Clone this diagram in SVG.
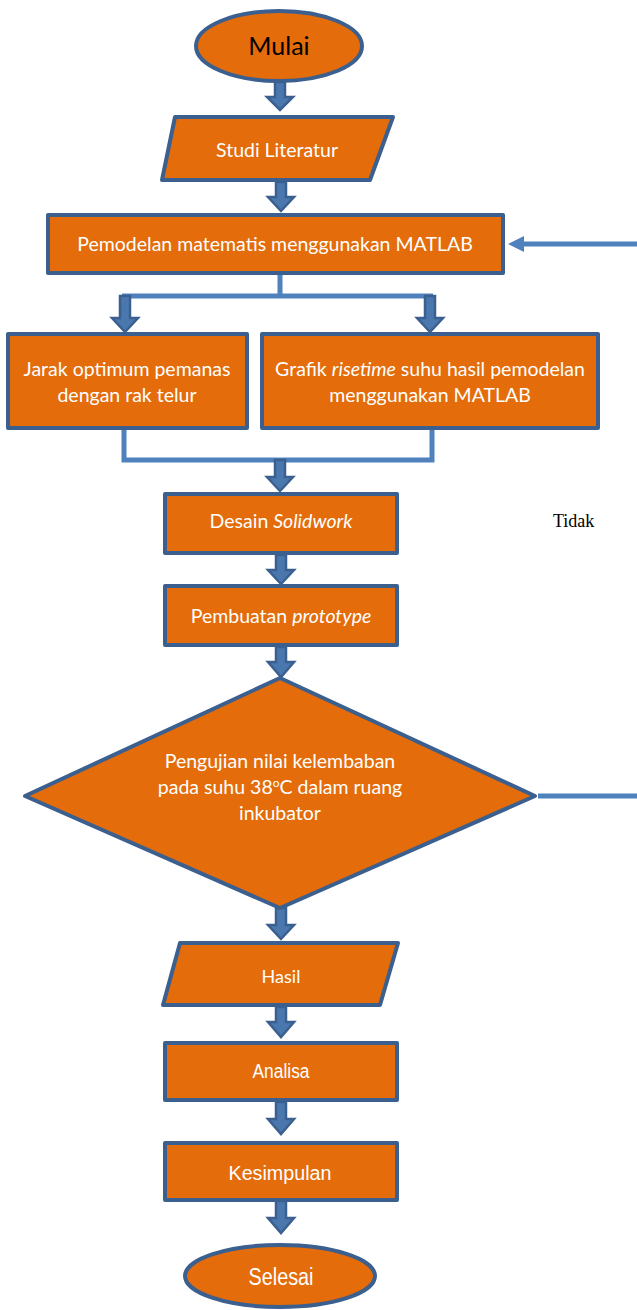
<svg xmlns="http://www.w3.org/2000/svg" width="637" height="1310" viewBox="0 0 637 1310">
<defs>
<style>
.node{fill:#E46C0A;stroke:#3B5F8E;stroke-width:4;stroke-linejoin:round}
.t{font-family:Lato,"Open Sans",sans-serif;font-size:19.5px;fill:#fff;text-anchor:middle}
.ta{font-family:"Liberation Sans",Arial,sans-serif;font-size:20px;fill:#fff;text-anchor:middle}
.barrow{fill:#4A78AE;stroke:#3B5F8E;stroke-width:2.5;stroke-linejoin:miter}
.line{fill:none;stroke:#4F81BD;stroke-width:5}
</style>
</defs>
<g id="connectors">
<path class="barrow" d="M275,82 L285,82 L285,97 L293,97 L280,110 L267,97 L275,97 Z"/>
<path class="barrow" d="M276,182 L286,182 L286,197 L294,197 L281,211 L268,197 L276,197 Z"/>
<path class="line" d="M280,274 L280,296 M122,296 L433,296"/>
<path class="barrow" d="M120,296 L130,296 L130,318 L138,318 L125,332 L112,318 L120,318 Z"/>
<path class="barrow" d="M425,296 L435,296 L435,318 L443,318 L430,332 L417,318 L425,318 Z"/>
<path class="line" d="M124,429 L124,460 L432,460 L432,429"/>
<path class="barrow" d="M275,460 L285,460 L285,477 L293,477 L280,491 L267,477 L275,477 Z"/>
<path class="barrow" d="M276,555 L286,555 L286,570 L294,570 L281,584 L268,570 L276,570 Z"/>
<path class="barrow" d="M276,647 L286,647 L286,662 L294,662 L281,677 L268,662 L276,662 Z"/>
<path class="barrow" d="M276,908 L286,908 L286,925 L294,925 L281,939 L268,925 L276,925 Z"/>
<path class="barrow" d="M276,1007 L286,1007 L286,1022 L294,1022 L281,1037 L268,1022 L276,1022 Z"/>
<path class="barrow" d="M276,1102 L286,1102 L286,1119 L294,1119 L281,1134 L268,1119 L276,1119 Z"/>
<path class="barrow" d="M276,1201 L286,1201 L286,1218 L294,1218 L281,1233 L268,1218 L276,1218 Z"/>
<path class="line" d="M637,244 L522,244"/>
<path d="M508,244 L524,236 L524,252 Z" fill="#4F81BD"/>
<path class="line" d="M538,796 L637,796"/>
<text x="553" y="527" font-family="'Liberation Serif','Times New Roman',serif" font-size="18" fill="#000">Tidak</text>
</g>
<g id="mulai">
<ellipse class="node" cx="279" cy="46" rx="83" ry="35"/>
<text x="279" y="55" font-family="Lato,'Open Sans',sans-serif" font-size="25" fill="#000" text-anchor="middle">Mulai</text>
</g>
<g id="studi">
<polygon class="node" points="175,117 393,117 370,180 162,180"/>
<text class="t" x="277" y="157">Studi Literatur</text>
</g>
<g id="pemodelan">
<rect class="node" x="48" y="215" width="455" height="58"/>
<text class="t" x="275" y="251">Pemodelan matematis menggunakan MATLAB</text>
</g>
<g id="jarak">
<rect class="node" x="8" y="334" width="239" height="94"/>
<text class="t" x="127" y="376">Jarak optimum pemanas</text>
<text class="t" x="127" y="402">dengan rak telur</text>
</g>
<g id="grafik">
<rect class="node" x="262" y="334" width="336" height="94"/>
<text class="t" x="430" y="376">Grafik <tspan font-style="italic">risetime</tspan> suhu hasil pemodelan</text>
<text class="t" x="430" y="402">menggunakan MATLAB</text>
</g>
<g id="desain">
<rect class="node" x="165" y="494" width="232" height="59"/>
<text class="t" x="281" y="528">Desain <tspan font-style="italic">Solidwork</tspan></text>
</g>
<g id="pembuatan">
<rect class="node" x="165" y="586" width="232" height="59"/>
<text class="t" x="281" y="623">Pembuatan <tspan font-style="italic">prototype</tspan></text>
</g>
<g id="pengujian">
<polygon class="node" points="280,678 535,796 280,908 25,796"/>
<text class="t" x="280" y="768">Pengujian nilai kelembaban</text>
<text class="t" x="280" y="794">pada suhu 38<tspan style="font-size:12px" dy="-7">o</tspan><tspan dy="7">C dalam ruang</tspan></text>
<text class="t" x="280" y="820">inkubator</text>
</g>
<g id="hasil">
<polygon class="node" points="180,943 398,943 380,1005 163,1005"/>
<text class="t" x="281" y="983" style="font-size:18px">Hasil</text>
</g>
<g id="analisa">
<rect class="node" x="165" y="1043" width="232" height="57"/>
<text class="ta" x="281" y="1078" textLength="57" lengthAdjust="spacingAndGlyphs">Analisa</text>
</g>
<g id="kesimpulan">
<rect class="node" x="165" y="1143" width="232" height="57"/>
<text class="ta" x="280" y="1180" textLength="103" lengthAdjust="spacingAndGlyphs">Kesimpulan</text>
</g>
<g id="selesai">
<ellipse class="node" cx="280" cy="1276" rx="95" ry="31"/>
<text class="ta" x="281" y="1285" style="font-size:23px" textLength="65" lengthAdjust="spacingAndGlyphs">Selesai</text>
</g>
</svg>
